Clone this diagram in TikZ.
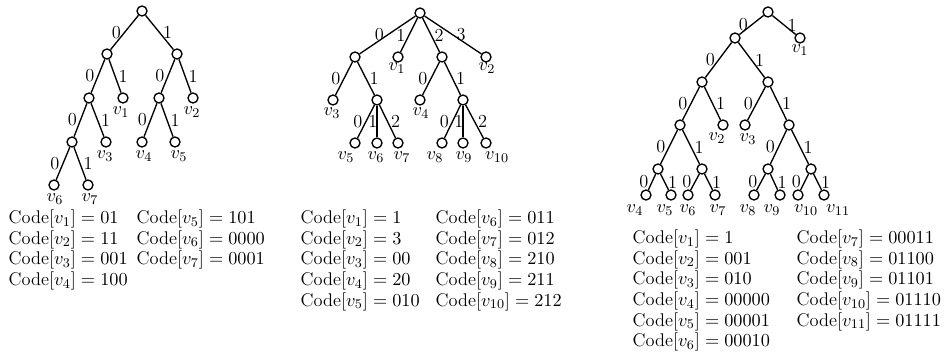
\documentclass[tikz,border=0pt]{standalone}
\usepackage{amsmath}
\usepackage{tikz}
\usetikzlibrary{calc}

\tikzset{
  vert/.style={circle,draw,thick,fill=white,inner sep=0pt,minimum size=6pt},
  lft/.style={left,inner sep=1.8pt},
  rgt/.style={right,inner sep=1.8pt},
  ctr/.style={xshift=-2.5pt,inner sep=0pt},
  vlab/.style={inner sep=0pt},
  codes/.style={anchor=north west,align=left,inner sep=0pt}
}

\begin{document}
\begin{tikzpicture}[x=0.6pt,y=-0.6pt,thick,font=\fontsize{11}{12.4}\selectfont]
  \useasboundingbox (0,0) rectangle (947,352);
  % binary tree
  \node[vert] (r) at (142,11) {};
  \node[vert] (a) at (107,54) {};
  \node[vert] (b) at (177,54) {};
  \node[vert] (c) at (89,98) {};
  \node[vert] (p1) at (123,98) {};
  \node[vert] (d) at (159,98) {};
  \node[vert] (p2) at (193,98) {};
  \node[vert] (e) at (72,142) {};
  \node[vert] (p3) at (106,142) {};
  \node[vert] (p4) at (142,142) {};
  \node[vert] (p5) at (175,142) {};
  \node[vert] (p6) at (54,185) {};
  \node[vert] (p7) at (88,185) {};
  \draw (r) -- node[lft] {0} (a);
  \draw (r) -- node[rgt] {1} (b);
  \draw (a) -- node[lft] {0} (c);
  \draw (a) -- node[rgt] {1} (p1);
  \draw (b) -- node[lft] {0} (d);
  \draw (b) -- node[rgt] {1} (p2);
  \draw (c) -- node[lft] {0} (e);
  \draw (c) -- node[rgt] {1} (p3);
  \draw (d) -- node[lft] {0} (p4);
  \draw (d) -- node[rgt] {1} (p5);
  \draw (e) -- node[lft] {0} (p6);
  \draw (e) -- node[rgt] {1} (p7);
  \node[vlab] (lp1) at (121,112) {$v_1$};
  \node[vlab] (lp2) at (192,112) {$v_2$};
  \node[vlab] (lp3) at (105,156) {$v_3$};
  \node[vlab] (lp4) at (144,156) {$v_4$};
  \node[vlab] (lp5) at (179,156) {$v_5$};
  \node[vlab] (lp6) at (55,199) {$v_6$};
  \node[vlab] (lp7) at (90,199) {$v_7$};
  \node[codes] (ca) at (8,209) {Code$[v_1] = 01$\\Code$[v_2] = 11$\\Code$[v_3] = 001$\\Code$[v_4] = 100$};
  \node[codes] (cb) at (136,209) {Code$[v_5] = 101$\\Code$[v_6] = 0000$\\Code$[v_7] = 0001$};

  % ternary-ish tree
  \node[vert] (R) at (420,13) {};
  \node[vert] (A) at (355,57) {};
  \node[vert] (q1) at (398,57) {};
  \node[vert] (B) at (442,57) {};
  \node[vert] (q2) at (486,57) {};
  \node[vert] (q3) at (333,100) {};
  \node[vert] (C) at (377,100) {};
  \node[vert] (q4) at (420,100) {};
  \node[vert] (D) at (463,100) {};
  \node[vert] (q5) at (355,143) {};
  \node[vert] (q6) at (377,143) {};
  \node[vert] (q7) at (398,143) {};
  \node[vert] (q8) at (442,143) {};
  \node[vert] (q9) at (463,143) {};
  \node[vert] (q10) at (486,143) {};
  \draw (R) -- node[lft] {0} (A);
  \draw (R) -- node[lft] {1} (q1);
  \draw (R) -- node[rgt] {2} (B);
  \draw (R) -- node[rgt] {3} (q2);
  \draw (A) -- node[lft] {0} (q3);
  \draw (A) -- node[rgt] {1} (C);
  \draw (B) -- node[lft] {0} (q4);
  \draw (B) -- node[rgt] {1} (D);
  \draw (C) -- node[lft] {0} (q5);
  \draw (C) -- node[ctr] {1} (q6);
  \draw (C) -- node[rgt] {2} (q7);
  \draw (D) -- node[lft] {0} (q8);
  \draw (D) -- node[ctr] {1} (q9);
  \draw (D) -- node[rgt] {2} (q10);
  \node[vlab] (lq1) at (397,68) {$v_1$};
  \node[vlab] (lq2) at (487,68) {$v_2$};
  \node[vlab] (lq3) at (332,113) {$v_3$};
  \node[vlab] (lq4) at (421,113) {$v_4$};
  \node[vlab] (lq5) at (346,157) {$v_5$};
  \node[vlab] (lq6) at (376,157) {$v_6$};
  \node[vlab] (lq7) at (402,157) {$v_7$};
  \node[vlab] (lq8) at (435,157) {$v_8$};
  \node[vlab] (lq9) at (464,157) {$v_9$};
  \node[vlab] (lq10) at (497,157) {$v_{10}$};
  \node[codes] (cc) at (300,209) {Code$[v_1] = 1$\\Code$[v_2] = 3$\\Code$[v_3] = 00$\\Code$[v_4] = 20$\\Code$[v_5] = 010$};
  \node[codes] (cd) at (435,209) {Code$[v_6] = 011$\\Code$[v_7] = 012$\\Code$[v_8] = 210$\\Code$[v_9] = 211$\\Code$[v_{10}] = 212$};

  % deep binary tree
  \node[vert] (P) at (768,12) {};
  \node[vert] (Q) at (735,38) {};
  \node[vert] (s1) at (800,38) {};
  \node[vert] (S) at (702,82) {};
  \node[vert] (T) at (768,82) {};
  \node[vert] (U) at (680,125) {};
  \node[vert] (s2) at (723,125) {};
  \node[vert] (s3) at (745,125) {};
  \node[vert] (W) at (789,125) {};
  \node[vert] (X) at (658,169) {};
  \node[vert] (Y) at (702,169) {};
  \node[vert] (Z) at (768,169) {};
  \node[vert] (V) at (811,169) {};
  \node[vert] (s4) at (646,195) {};
  \node[vert] (s5) at (671,195) {};
  \node[vert] (s6) at (688,195) {};
  \node[vert] (s7) at (715,195) {};
  \node[vert] (s8) at (754,195) {};
  \node[vert] (s9) at (780,195) {};
  \node[vert] (s10) at (798,195) {};
  \node[vert] (s11) at (824,195) {};
  \draw (P) -- node[lft] {0} (Q);
  \draw (P) -- node[rgt] {1} (s1);
  \draw (Q) -- node[lft] {0} (S);
  \draw (Q) -- node[rgt] {1} (T);
  \draw (S) -- node[lft] {0} (U);
  \draw (S) -- node[rgt] {1} (s2);
  \draw (T) -- node[lft] {0} (s3);
  \draw (T) -- node[rgt] {1} (W);
  \draw (U) -- node[lft] {0} (X);
  \draw (U) -- node[rgt] {1} (Y);
  \draw (W) -- node[lft] {0} (Z);
  \draw (W) -- node[rgt] {1} (V);
  \draw (X) -- node[lft] {0} (s4);
  \draw (X) -- node[rgt] {1} (s5);
  \draw (Y) -- node[lft] {0} (s6);
  \draw (Y) -- node[rgt] {1} (s7);
  \draw (Z) -- node[lft] {0} (s8);
  \draw (Z) -- node[rgt] {1} (s9);
  \draw (V) -- node[lft] {0} (s10);
  \draw (V) -- node[rgt] {1} (s11);
  \node[vlab] (ls1) at (800,50) {$v_1$};
  \node[vlab] (ls2) at (717,138) {$v_2$};
  \node[vlab] (ls3) at (748,139) {$v_3$};
  \node[vlab] (ls4) at (635,210) {$v_4$};
  \node[vlab] (ls5) at (665,210) {$v_5$};
  \node[vlab] (ls6) at (688,210) {$v_6$};
  \node[vlab] (ls7) at (718,210) {$v_7$};
  \node[vlab] (ls8) at (748,210) {$v_8$};
  \node[vlab] (ls9) at (772,210) {$v_9$};
  \node[vlab] (ls10) at (806,210) {$v_{10}$};
  \node[vlab] (ls11) at (838,210) {$v_{11}$};
  \node[codes] (ce) at (632,229) {Code$[v_1] = 1$\\Code$[v_2] = 001$\\Code$[v_3] = 010$\\Code$[v_4] = 00000$\\Code$[v_5] = 00001$\\Code$[v_6] = 00010$};
  \node[codes] (cf) at (796,229) {Code$[v_7] = 00011$\\Code$[v_8] = 01100$\\Code$[v_9] = 01101$\\Code$[v_{10}] = 01110$\\Code$[v_{11}] = 01111$};
\end{tikzpicture}
\end{document}
